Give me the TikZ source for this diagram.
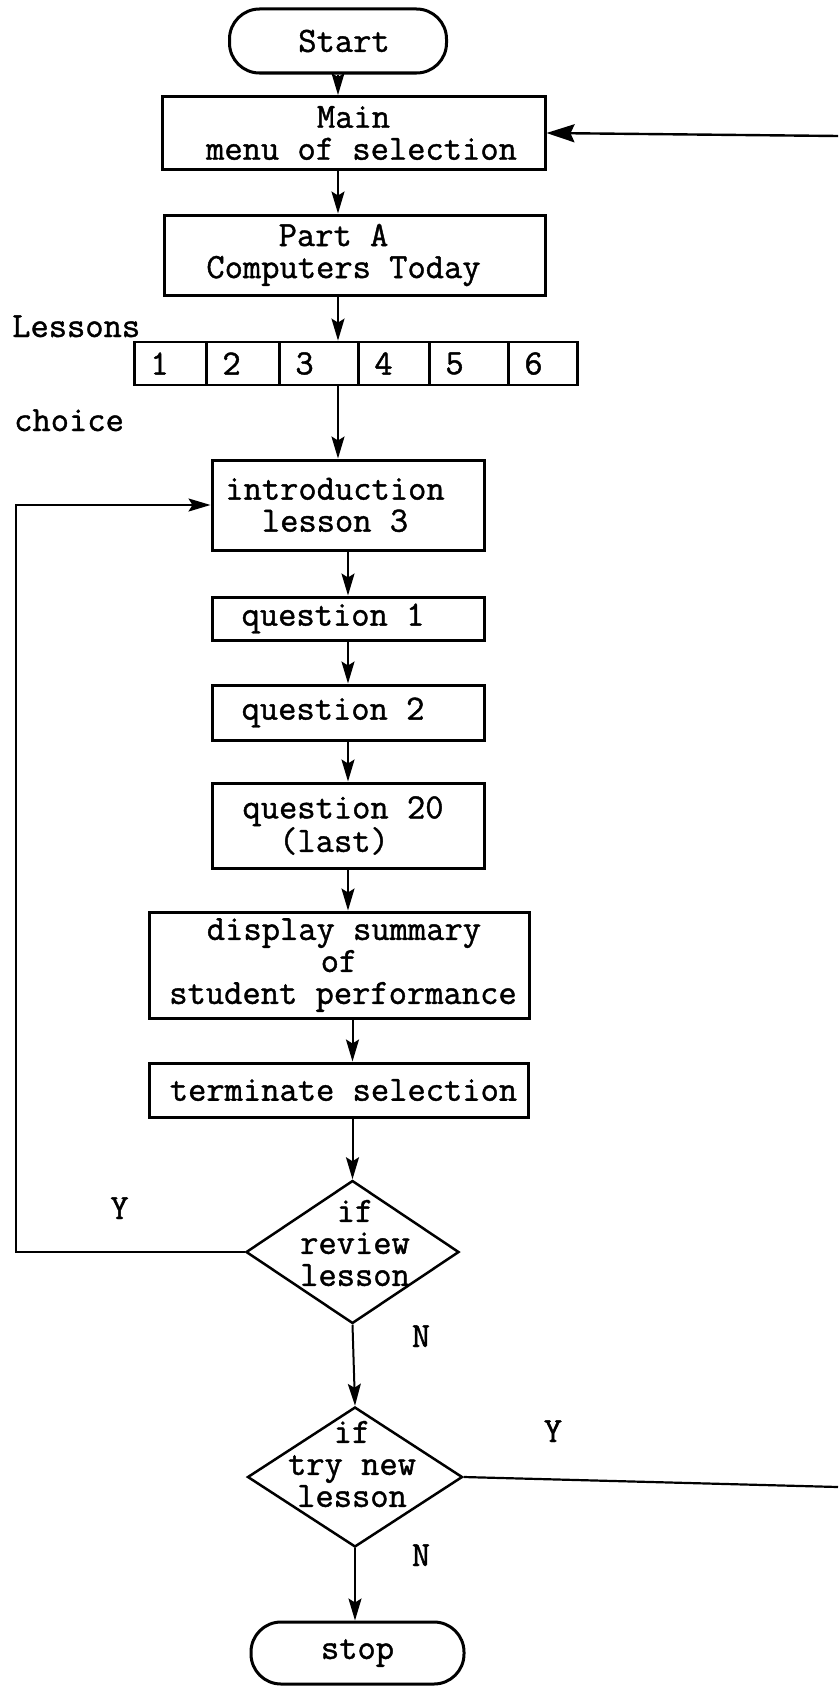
\documentclass[tikz,border=0pt]{standalone}
\usepackage{fontspec}
\setmonofont{Latin Modern Mono}[FakeBold=1.2]
\usetikzlibrary{shapes.geometric,arrows.meta}
\newcommand\padL[1]{\hspace*{#1}}
\begin{document}
\begin{tikzpicture}[x=1pt,y=-1pt,
  tt/.style={font=\ttfamily\fontsize{35.5}{32}\selectfont},
  box/.style={tt, draw, line width=3pt, rectangle, inner sep=0pt, align=center},
  term/.style={box, rounded corners=30pt},
  cell/.style={tt, draw, line width=2.8pt, inner xsep=16pt, inner ysep=0pt, minimum height=43pt, align=left, anchor=west},
  dec/.style={draw, diamond, line width=2.5pt, inner sep=0pt},
  txt/.style={tt, inner sep=0pt, align=center},
  arr/.style={line width=2pt, -{Stealth[length=22pt,width=13pt,inset=4pt]}},
  barr/.style={line width=2.4pt, -{Stealth[length=28pt,width=18pt,inset=4pt]}},
  plain/.style={line width=2.2pt}
]
\useasboundingbox (0,0) rectangle (838,1686);

\node[term, minimum width=217pt, minimum height=64pt] (start) at (338,41) {\padL{12pt}Start};
\node[box, minimum width=383pt, minimum height=73pt] (main) at (353.5,133) {Main\\\padL{16pt}menu of selection};
\node[box, minimum width=381pt, minimum height=80pt] (partA) at (354.5,255) {Part A\padL{42pt}\\Computers Today\padL{22pt}};

\node[txt, anchor=base west] (lessons) at (12,337) {Lessons};
\node[cell, text width=40pt] (c1) at (133,363.5) {1};
\node[cell, text width=41pt] (c2) at (205,363.5) {2};
\node[cell, text width=47pt] (c3) at (278,363.5) {3};
\node[cell, text width=39pt] (c4) at (357,363.5) {4};
\node[cell, text width=47pt] (c5) at (428,363.5) {5};
\node[cell, text width=37pt] (c6) at (507,363.5) {6};
\node[txt, anchor=base west] (choice) at (14,431) {choice};

\node[box, minimum width=272pt, minimum height=90pt] (intro) at (348,505) {introduction\padL{26pt}\\lesson 3\padL{26pt}};
\node[box, minimum width=272pt, minimum height=43pt] (q1) at (348,618.5) {question 1\padL{30pt}};
\node[box, minimum width=272pt, minimum height=55pt] (q2) at (348,712.5) {question 2\padL{30pt}};
\node[box, minimum width=272pt, minimum height=85pt] (q20) at (348,825.5) {question 20\padL{10pt}\\(last)\padL{28pt}};
\node[box, minimum width=380pt, minimum height=106pt] (display) at (339,965) {\padL{10pt}display summary\\of\padL{10pt}\\\padL{8pt}student performance};
\node[box, minimum width=379pt, minimum height=54pt] (terminate) at (338.5,1090) {\padL{10pt}terminate selection};

\node[dec, minimum width=213pt, minimum height=143pt] (d1) at (352.5,1252) {};
\node[txt] (d1t) at (355,1243) {if\\review\\lesson};
\node[dec, minimum width=215pt, minimum height=140pt] (d2) at (355,1477) {};
\node[txt] (d2t) at (352,1464) {if\\try new\\lesson};
\node[term, minimum width=213pt, minimum height=62pt] (stop) at (357.5,1653) {stop};

\node[txt, anchor=base] (y1) at (119.5,1219) {Y};
\node[txt, anchor=base] (n1) at (421,1347) {N};
\node[txt, anchor=base] (y2) at (553,1442) {Y};
\node[txt, anchor=base] (n2) at (421,1566) {N};

\coordinate (lc) at (16,0);
\coordinate (rb) at (838,1487);
\coordinate (rt) at (838,136);

\draw[arr] (start.south) -- (start.south |- main.north);
\draw[arr] (main.south -| start.south) -- (partA.north -| start.south);
\draw[arr] (partA.south -| start.south) -- (c3.north -| start.south);
\draw[arr] (c3.south -| start.south) -- (intro.north -| start.south);
\draw[arr] (intro.south) -- (q1.north);
\draw[arr] (q1.south) -- (q2.north);
\draw[arr] (q2.south) -- (q20.north);
\draw[arr] (q20.south) -- (display.north -| q20.south);
\draw[arr] (display.south -| d1.north) -- (terminate.north -| d1.north);
\draw[arr] (terminate.south -| d1.north) -- (d1.north);
\draw[arr] (d1.south) -- (d2.north);
\draw[arr] (d2.south) -- (stop.north -| d2.south);
\draw[arr] (d1.west) -- (d1.west -| lc) -- (intro.west -| lc) -- (intro.west);
\draw[plain] (d2.east) -- (rb);
\draw[barr] (rt) -- (main.east);
\end{tikzpicture}
\end{document}
